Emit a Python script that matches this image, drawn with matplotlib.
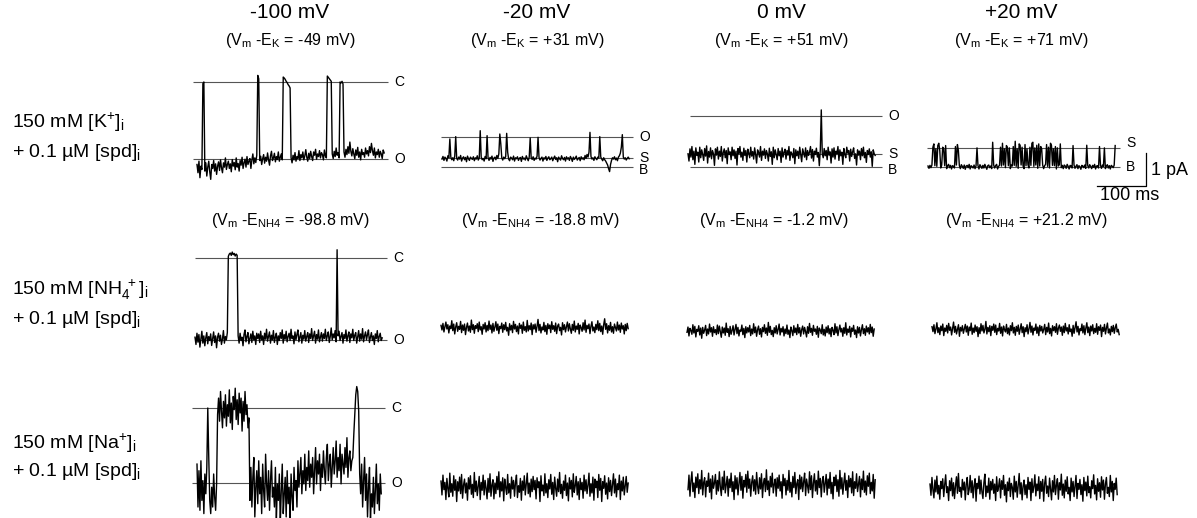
import numpy as np
import matplotlib
matplotlib.use("Agg")
import matplotlib.pyplot as plt

plt.rcParams["font.family"] = ["Liberation Sans", "DejaVu Sans"]
plt.rcParams["mathtext.fontset"] = "custom"
plt.rcParams["mathtext.rm"] = "Liberation Sans"
plt.rcParams["mathtext.it"] = "Liberation Sans:italic"
plt.rcParams["mathtext.bf"] = "Liberation Sans:bold"

# --- Data: single-channel currents, units of 0.01 pA, one sample every DT_MS ---
DT_MS = 2

VOLTAGES = ["-100 mV", "-20 mV", "0 mV", "+20 mV"]
VM_EK = ["-49", "+31", "+51", "+71"]
VM_ENH4 = ["-98.8", "-18.8", "-1.2", "+21.2"]

# 150 mM K+ row
K_M100 = [-250, -275, -240, -290, -255, -265, -5, 0, -270, -245, -285, -258, -240, -272, -295, -250,
          -262, -238, -270, -248, -280, -255, -242, -268, -236, -260, -275, -245, -258, -230, -265, -250,
          -240, -262, -248, -272, -235, -255, -244, -266, -230, -258, -247, -270, -238, -252, -228, -262,
          -245, -234, -258, -226, -250, -240, -232, -262, -236, -218, -248, -230, -244, -222, 20, 10,
          -238, -225, -250, -232, -220, -246, -228, -240, -215, -236, -252, -224, -210, -238, -230, -216,
          -242, -226, -235, -212, -240, -228, -218, -236, 15, 12, 8, 2, -2, -8, -12, -18,
          -230, -245, -222, -236, -214, -240, -226, -232, -208, -238, -220, -230, -212, -236, -224, -205,
          -228, -240, -216, -232, -210, -226, -238, -212, -222, -204, -234, -218, -226, -208, -230, -214,
          -220, -236, -206, -224, -230, 18, 14, 10, 6, 2, -218, -232, -210, -226, -200, -222,
          -214, -230, 0, -3, 2, -6, -212, -228, -204, -220, -196, -216, -182, -210, -224, -202,
          -218, -232, -206, -222, -198, -228, -212, -236, -204, -220, -214, -228, -200, -218, -208, -224,
          -196, -214, -186, -208, -222, -200, -230, -212, -220, -204, -228, -210, -218, -232, -206, -215]
K_M20 = [24, 32, 20, 30, 26, 18, 34, 28, 85, 30, 22, 28, 19, 33, 92, 26,
         21, 30, 24, 35, 18, 27, 31, 22, 29, 16, 33, 25, 20, 30, 26, 23,
         31, 19, 28, 24, 34, 21, 27, 110, 30, 22, 26, 18, 32, 25, 95, 28,
         20, 29, 24, 33, 17, 27, 30, 22, 35, 26, 40, 100, 70, 28, 21, 30,
         25, 32, 102, 45, 24, 19, 30, 27, 22, 33, 18, 28, 25, 31, 20, 26,
         29, 17, 32, 24, 27, 21, 34, 26, 19, 30, 88, 28, 23, 31, 20, 27,
         24, 33, 90, 29, 21, 26, 30, 18, 28, 24, 32, 20, 27, 31, 22, 25,
         30, 19, 27, 33, 23, 28, 16, 30, 25, 21, 34, 26, 22, 29, 18, 31,
         24, 28, 20, 32, 26, 17, 30, 23, 27, 33, 21, 25, 29, 19, 31, 24,
         28, 22, 35, 26, 38, 30, 45, 105, 32, 24, 28, 20, 31, 26, 22, 30,
         27, 92, 30, 24, 19, 28, 22, 18, 12, 6, -5, -14, 8, 20, 28, 24,
         31, 22, 27, 19, 30, 34, 42, 60, 98, 30, 24, 28, 21, 26, 30, 25]
K_0 = [40, 18, 55, 30, 62, 22, 48, 8, 58, 35, 45, 15, 60, 28, 52, 38,
       20, 56, 33, 64, 12, 47, 30, 58, 25, 50, 40, 5, 55, 36, 60, 24,
       48, 32, 62, 18, 44, 55, 28, 50, 10, 58, 38, 46, 22, 60, 34, 52,
       26, 48, 6, 56, 40, 62, 30, 45, 20, 57, 35, 50, 15, 54, 42, 28,
       60, 33, 47, 24, 58, 38, 12, 52, 44, 30, 62, 20, 48, 36, 55, 26,
       50, 40, 18, 57, 32, 46, 8, 60, 28, 52, 38, 22, 56, 34, 48, 14,
       58, 30, 44, 54, 24, 50, 36, 62, 20, 46, 40, 28, 56, 10, 52, 34,
       48, 26, 60, 38, 16, 55, 42, 30, 58, 22, 50, 35, 45, 62, 27, 53,
       18, 48, 38, 57, 30, 44, 4, 52, 173, 40, 28, 56, 34, 50, 22, 60,
       36, 46, 12, 55, 30, 58, 24, 48, 40, 62, 20, 52, 34, 45, 8, 56,
       38, 28, 60, 42, 50, 18, 54, 32, 46, 58, 26, 40, 6, 52, 36, 48,
       22, 56, 34, 60, 28, 44, 14, 50, 38, 55, 30, 46, 2, 52, 40, 35]
K_P20 = [3, -4, 5, -2, 6, 60, 70, 4, 55, 2, 65, 72, 50, -3, 6, 60,
         55, 4, 65, -5, 3, 8, -2, 5, -6, 4, 2, -3, 62, 6, 68, 50,
         4, -5, 7, 2, -4, 6, -7, 3, 5, -2, 8, -6, 4, 1, -3, 6,
         -5, 3, 58, 4, -6, 7, 2, -4, 5, -3, 8, 1, -7, 4, 6, -2,
         3, -5, 75, 6, -3, 4, 8, -6, 2, 5, 60, 3, 72, 6, 55, -2,
         65, 60, 4, 58, -5, 6, 3, 62, 5, 78, 2, 55, -4, 70, 66, 6,
         60, 3, -5, 68, 4, 55, 7, -3, 60, 5, 72, 75, 2, 58, 6, 66,
         -4, 70, 3, 62, 55, 6, -5, 4, 8, 68, 2, 60, -3, 72, 65, 5,
         55, 4, 62, -6, 58, 3, 7, 70, -2, 5, -5, 6, 3, -4, 8, 2,
         -6, 5, 3, -3, 65, 6, -4, 2, 7, -5, 4, 1, -7, 5, 3, -2,
         6, -4, 66, 4, -3, 7, 2, -5, 5, -1, 8, -6, 3, 4, -3, 62,
         5, -4, 6, 2, 58, -5, 3, 7, -3, 4, -6, 5, 2, -2, 6, 65]

# 150 mM NH4+ row
NH4_M100 = [-240, -262, -228, -255, -232, -270, -245, -222, -258, -236, -266, -242, -226, -260, -238, -250,
            -230, -265, -244, -224, -256, -236, -272, -240, -228, -252, -234, -262, -246, -220, -258, -238,
            -248, -226, 5, 12, 15, 8, 18, 10, 14, 6, 12, 8, -236, -258, -228, -250,
            -240, -266, -232, -218, -254, -238, -226, -260, -244, -230, -256, -222, -248, -236, -262, -228,
            -244, -230, -256, -222, -248, -236, -262, -228, -246, -216, -252, -238, -224, -258, -234, -248,
            -220, -256, -240, -228, -262, -236, -250, -226, -244, -218, -258, -232, -246, -222, -254, -238,
            -228, -250, -216, -244, -236, -260, -224, -248, -232, -218, -254, -240, -226, -258, -234, -246,
            -220, -252, -238, -226, -256, -230, -244, -214, -250, -236, -222, -258, -232, -246, -218, -254,
            -240, -226, -252, -230, -244, -216, -250, -236, -224, -256, -238, -212, -248, -230, -242, -220,
            -254, 25, -236, -222, -250, -238, -226, -258, -232, -244, -218, -252, -236, -224, -256, -230,
            -242, -216, -250, -234, -226, -258, -238, -220, -252, -230, -246, -214, -254, -236, -224, -248,
            -232, -218, -256, -240, -226, -250, -236, -262, -230, -244, -220, -254, -238, -228, -250, -242]
NH4_M20 = [8, -6, 14, -12, 4, 18, -3, 10, -15, 6, -2, 22, -8, 12, -18, 3,
           16, -10, 5, -4, 20, -14, 9, -7, 12, -20, 2, 15, -9, 6, -13, 24,
           -5, 10, -16, 7, -1, 13, -11, 18, -6, 4, -19, 11, -3, 16, -12, 8,
           -8, 21, -4, 9, -15, 14, -10, 3, 19, -7, 12, -17, 5, -2, 15, -13,
           10, -5, 17, -9, 2, -22, 13, -6, 8, -14, 20, -3, 11, -11, 6, -18,
           14, -1, 9, -16, 18, -7, 4, -12, 23, -9, 7, -5, 15, -20, 10, -3,
           12, -13, 5, 26, -8, 11, -15, 3, -6, 17, -11, 8, -19, 13, -2, 9,
           -14, 19, -4, 7, -10, 15, -17, 6, 12, -8, 2, -21, 16, -5, 10, -12,
           4, 18, -9, 13, -3, -16, 11, -7, 21, -12, 6, -4, 14, -18, 9, 1,
           -10, 16, -6, 24, -13, 8, -2, 12, -17, 5, 19, -9, 3, -14, 11, -5,
           22, -8, 14, -11, 6, -19, 10, 28, -4, 13, -15, 7, -7, 17, -12, 4,
           -16, 12, 2, -9, 18, -6, 9, -13, 15, -3, 7, -18, 11, -8, 14, -2]
NH4_0 = [-4, 12, -15, 8, 2, -10, 19, -6, 14, -18, 5, -1, 16, -12, 9, -22,
         11, -7, 3, 17, -14, 6, -9, 21, -3, 10, -16, 13, -5, 4, -11, 18,
         -8, 15, -2, -19, 12, -6, 9, -13, 24, -4, 7, -17, 14, -10, 2, 16,
         -12, 5, 20, -8, 11, -15, 3, -1, 18, -11, 8, -20, 13, -6, 10, -3,
         17, -14, 6, -9, 22, -5, 12, -16, 4, 15, -10, 7, -18, 11, -2, 19,
         -7, 9, -13, 26, -4, 14, -11, 2, -17, 10, -6, 16, -9, 5, 21, -12,
         8, -3, 13, -15, 6, -8, 18, -10, 3, -20, 12, 1, -14, 16, -5, 9,
         -11, 20, -6, 10, -16, 4, 15, -9, 11, -2, -18, 13, -7, 23, -4, 8,
         -13, 17, -1, 6, -10, 14, -19, 9, 3, -8, 19, -12, 5, -15, 12, -5,
         16, -9, 7, -17, 11, 2, -11, 22, -6, 13, -14, 4, 18, -3, 8, -16,
         10, -7, 25, -12, 6, -4, 14, -18, 9, -1, 17, -10, 3, -20, 13, -6,
         11, -15, 4, 19, -8, 7, -13, 15, -3, 10, -9, 20, -5, 12, -16, 6]
NH4_P20 = [10, -5, 16, -11, 3, 22, -8, 7, -14, 12, -2, 18, -17, 6, -4, 14,
           -9, 20, -1, 9, -15, 5, 24, -7, 11, -12, 2, 16, -19, 8, -3, 13,
           -10, 4, 17, -6, 12, -16, 9, -2, 21, -13, 6, -8, 15, -4, 10, -20,
           7, -11, 19, -3, 14, -9, 2, 26, -12, 8, -5, 13, -17, 11, -1, 18,
           -7, 15, -14, 5, -3, 20, -10, 9, -18, 12, 1, -6, 17, -11, 6, -15,
           13, -2, 22, -9, 8, -16, 11, -4, 15, -13, 3, 19, -8, 10, -20, 7,
           -5, 16, -12, 4, 23, -7, 12, -15, 6, -1, 18, -10, 9, -17, 14, -3,
           11, -9, 2, 17, -14, 8, -6, 21, -11, 5, -18, 13, -2, 10, -7, 19,
           -13, 6, 15, -4, 9, -16, 12, -8, 20, -3, 7, -12, 16, -5, 3, -19,
           14, -10, 8, 25, -6, 11, -15, 4, -2, 18, -9, 13, -14, 6, 22, -8,
           9, -17, 12, -3, 16, -11, 5, -7, 19, -13, 10, -1, 15, -20, 8, -4,
           17, -12, 6, 21, -9, 3, -15, 11, -5, 14, -10, 7, 18, -6, 2, -14]

# 150 mM Na+ row
NA_M100 = [-170, -300, -190, -310, -160, -280, -220, -320, -200, -260, -180, 0, -150, -280, -320, -240,
           -300, -200, -270, -310, -230, -20, 30, -40, 50, -10, -60, 20, -30, 40, -55, 10,
           -25, 55, -45, 15, -65, 35, -5, 60, -35, 25, -50, 45, -15, 30, -70, 20,
           -40, 50, -20, 10, -60, -30, -280, -180, -300, -210, -150, -330, -240, -190, -290, -160,
           -260, -210, -320, -170, -250, -300, -140, -230, -280, -190, -310, -220, -160, -270, -240, -300,
           -180, -340, -230, -280, -200, -350, -250, -170, -320, -260, -210, -330, -190, -290, -240, -340,
           -200, -270, -310, -180, -250, -220, -300, -160, -240, -200, -150, -260, -190, -230, -140, -250,
           -180, -220, -130, -240, -170, -210, -150, -260, -190, -120, -230, -160, -200, -140, -250, -170,
           -210, -130, -190, -230, -150, -110, -220, -170, -140, -240, -180, -120, -200, -160, -100, -210,
           -150, -190, -110, -230, -140, -170, -200, -120, -180, -90, -210, -150, -130, -190, -160, -150,
           -80, -20, 40, 65, 50, -10, -200, -260, -170, -300, -220, -150, -280, -200, -330, -240,
           -180, -340, -260, -300, -210, -320, -250, -170, -290, -230, -310, -200, -260]
NA_M20 = [18, -24, 36, -8, 14, -38, 26, -4, -30, 42, -16, 10, -28, 34, -10, 22,
          -44, 16, -12, 30, -20, 38, -34, 6, 24, -18, 12, -40, 28, -6, 34, -22,
          8, -32, 44, -14, 18, -26, 2, 32, -38, 14, -10, 36, -24, 20, -4, -36,
          26, -16, 40, -28, 6, 22, -36, 12, -20, 32, -8, 46, -30, 16, -12, 28,
          -42, 24, -2, -22, 38, -18, 10, -34, 30, -6, 20, -28, 14, 36, -32, 4,
          -16, 26, -40, 18, -10, 34, -24, 8, 42, -20, 12, -30, 24, -14, 32, -8,
          20, -36, 28, -2, 16, -44, 34, -12, 6, -26, 40, -18, 10, -32, 22, -6,
          38, -22, 14, -38, 30, -4, -28, 24, -14, 44, -20, 8, -34, 18, -10, 36,
          -26, 12, -42, 28, -6, 20, -30, 40, -16, 4, 32, -24, 16, -38, 26, -8,
          14, -34, 36, -12, 22, -20, 6, 42, -28, 10, -18, 30, -40, 24, -2, 18,
          -32, 38, -10, 26, -44, 16, -4, 34, -22, 12, -36, 28, -14, 20, -26, 8,
          40, -18, 24, -30, 10, -8, 36, -38, 18, -12, 30, -24, 4, 32, -16, 12]
NA_0 = [-14, 30, -34, 12, 40, -20, 6, -38, 24, -8, 34, -26, 16, -12, 44, -30,
        8, 22, -36, 12, -4, 36, -22, 18, -42, 28, -10, 6, 32, -28, 14, -18,
        40, -6, -32, 24, -14, 42, -24, 2, 26, -34, 18, -8, 36, -20, 10, -44,
        28, -12, 22, -30, 4, 38, -16, 26, -40, 14, -6, 32, -22, 42, -10, 18,
        -34, 8, 28, -18, 16, -28, 38, -4, -26, 22, -12, 34, -38, 6, 20, -20,
        46, -14, 12, -32, 26, -6, 36, -24, 2, 18, -34, 22, -10, 30, -18, 10,
        -40, 32, -2, 20, -30, 14, -16, 44, -22, 8, -36, 26, -8, 38, -26, 4,
        16, -44, 30, -12, 24, -20, 10, 36, -32, 18, -4, -24, 40, -14, 28, -38,
        6, 34, -18, 14, -28, 42, -8, 20, -36, 12, 26, -22, 4, 32, -30, 18,
        -10, 38, -26, 8, -42, 24, -2, 30, -20, 16, -34, 44, -12, 22, -28, 6,
        36, -16, 14, -38, 28, -6, 20, -24, 40, -32, 10, -10, 34, -20, 2, 26,
        -36, 18, -14, 42, -22, 12, -30, 28, -4, 36, -26, 8, -18, 32, -40, 16]
NA_P20 = [12, -22, 32, -6, -30, 24, -12, 36, -18, 8, -34, 20, -2, 28, -26, 10,
          40, -14, 4, -38, 22, -8, 30, -24, 16, -32, 6, 34, -16, 44, -10, 2,
          -28, 26, -6, 18, -36, 12, 32, -20, -4, 38, -14, 22, -30, 8, 28, -40,
          14, -2, 36, -18, 24, -12, -32, 16, 42, -26, 6, -14, 30, -34, 20, -6,
          26, -16, 12, -38, 34, -10, 4, 28, -30, 22, -4, 38, -22, 10, -42, 18,
          -8, 30, -26, 14, 2, -34, 36, -12, 20, -28, 8, 44, -18, 16, -36, 6,
          24, -20, 10, -30, 32, -4, 18, -38, 28, -14, 4, 40, -24, 12, -8, 34,
          -32, 20, -10, 26, -40, 14, 36, -16, 6, -26, 30, -2, -36, 22, -12, 38,
          -20, 8, 28, -34, 16, -6, 42, -22, 12, -30, 24, -10, 34, -18, 2, -38,
          30, -12, 20, -26, 6, 38, -32, 14, -4, 26, -20, 10, -40, 32, -8, 18,
          -24, 36, -14, 4, -30, 22, -2, 40, -18, 8, -36, 28, -10, 16, -28, 34,
          -6, 24, -34, 12, 32, -16, 2, -26, 38, -12, 20, -38, 14, -4, 30, -20]

# current levels (pA): C closed, O open, S subconductance, B blocked
K_M100_LEVELS = {"C": 0.0, "O": -2.33}
K_M20_LEVELS = {"O": 0.91, "S": 0.27, "B": 0.0}
K_0_LEVELS = {"O": 1.55, "S": 0.39, "B": 0.0}
K_P20_LEVELS = {"S": 0.58, "B": 0.0}
NH4_M100_LEVELS = {"C": 0.0, "O": -2.48}
NA_M100_LEVELS = {"C": 0.0, "O": -2.27}

SCALE_PA = 1
SCALE_MS = 100

ROW_LABELS = [
    (r"150 mM [K$^{+}$]$_{\mathrm{i}}$", r"+ 0.1 µM [spd]$_{\mathrm{i}}$"),
    (r"150 mM [NH$_{4}^{\ +}$]$_{\mathrm{i}}$", r"+ 0.1 µM [spd]$_{\mathrm{i}}$"),
    (r"150 mM [Na$^{+}$]$_{\mathrm{i}}$", r"+ 0.1 µM [spd]$_{\mathrm{i}}$"),
]

# --- Layout (pixels) ---
W, H = 1197, 518
PX_PER_MS = 0.49
PX_PER_PA = 33.0
COL_CENTERS = [290, 537, 781, 1021]
NH4_CENTERS = [290, 540, 774, 1026]

fig = plt.figure(figsize=(W / 100, H / 100), dpi=100)


def make_panel(x0, y0):
    # axes anchored so that t = 0 ms, I = 0 pA sits at pixel (x0, y0)
    t_lo, t_hi = -30, 480
    i_lo, i_hi = -4.0, 4.0
    left = x0 + t_lo * PX_PER_MS
    width = (t_hi - t_lo) * PX_PER_MS
    top = y0 - i_hi * PX_PER_PA
    height = (i_hi - i_lo) * PX_PER_PA
    ax = fig.add_axes([left / W, 1 - (top + height) / H, width / W, height / H])
    ax.set_xlim(t_lo, t_hi)
    ax.set_ylim(i_lo, i_hi)
    ax.axis("off")
    ax.patch.set_visible(False)
    return ax


def draw_trace(ax, values):
    v = np.array(values) * 0.01
    t = np.arange(len(v)) * DT_MS
    ax.plot(t, v, color="black", lw=1.0)


def draw_levels(ax, levels, t0, t1, nudge=None, gap=12):
    nudge = nudge or {}
    ax.hlines(list(levels.values()), t0, t1, color="#555555", lw=0.8)
    for name, lvl in levels.items():
        ax.text(t1 + gap, lvl + nudge.get(name, 0), name, ha="left", va="center",
                fontsize=10)


panels = [
    (K_M100, (197, 82), K_M100_LEVELS, (-8, 390), {}),
    (K_M20, (442, 167), K_M20_LEVELS, (-2, 390), {"B": -0.1}),
    (K_0, (688, 167), K_0_LEVELS, (4, 396), {"B": -0.1}),
    (K_P20, (928, 167), K_P20_LEVELS, (-2, 392), {"S": 0.15}),
    (NH4_M100, (195, 258), NH4_M100_LEVELS, (0, 392), {}),
    (NH4_M20, (441, 328), None, None, None),
    (NH4_0, (687, 331), None, None, None),
    (NH4_P20, (932, 330), None, None, None),
    (NA_M100, (197, 408), NA_M100_LEVELS, (-10, 384), {}),
    (NA_M20, (441, 487), None, None, None),
    (NA_0, (688, 485), None, None, None),
    (NA_P20, (930, 488), None, None, None),
]

axes = []
for values, (x0, y0), levels, span, nudge in panels:
    ax = make_panel(x0, y0)
    if levels:
        draw_levels(ax, levels, span[0], span[1], nudge)
    draw_trace(ax, values)
    axes.append(ax)

# scale bar on the +20 mV K+ panel
ax = axes[3]
bx, by = 445, -0.58
ax.plot([bx - SCALE_MS, bx, bx], [by, by, by + SCALE_PA], color="black", lw=0.9)
ax.text(bx + 10, by + 0.48, f"{SCALE_PA} pA", ha="left", va="center", fontsize=13)
ax.text(bx - 33, by - 0.04, f"{SCALE_MS} ms", ha="center", va="top", fontsize=13)

# column headers
for i, cx in enumerate(COL_CENTERS):
    fig.text(cx / W, 1 - 13 / H, VOLTAGES[i], ha="center", va="center", fontsize=15)
    fig.text(cx / W, 1 - 40 / H,
             r"(V$_{\mathrm{m}}$ -E$_{\mathrm{K}}$ = " + VM_EK[i] + " mV)",
             ha="center", va="center", fontsize=11.5)

for i, cx in enumerate(NH4_CENTERS):
    fig.text(cx / W, 1 - 221 / H,
             r"(V$_{\mathrm{m}}$ -E$_{\mathrm{NH4}}$ = " + VM_ENH4[i] + " mV)",
             ha="center", va="center", fontsize=11.5)

# row labels
for (line1, line2), (y1, y2) in zip(ROW_LABELS, [(122, 152), (290, 319), (443, 471)]):
    fig.text(12 / W, 1 - y1 / H, line1, ha="left", va="center", fontsize=14)
    fig.text(12 / W, 1 - y2 / H, line2, ha="left", va="center", fontsize=14)

fig.savefig("out.png", dpi=100)
